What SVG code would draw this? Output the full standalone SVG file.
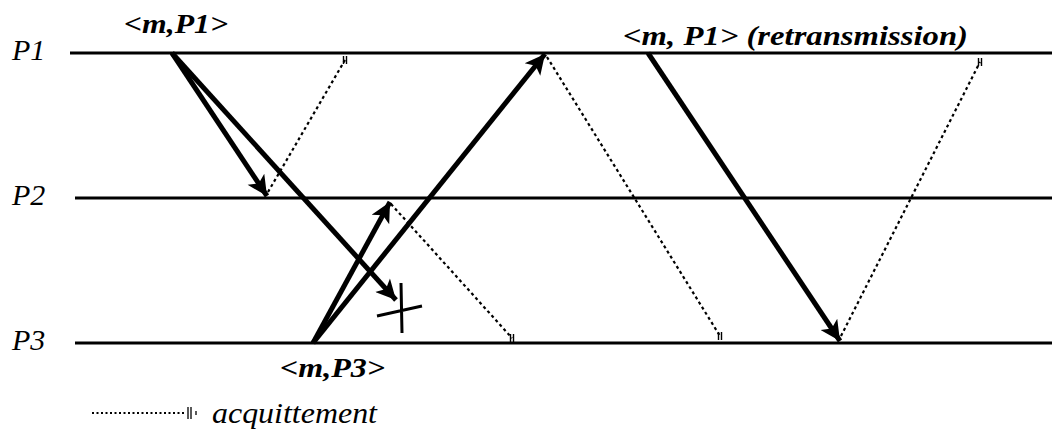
<svg xmlns="http://www.w3.org/2000/svg" width="1052" height="433" viewBox="0 0 1052 433">
<style>
.lbl{font-family:"Liberation Serif",serif;font-style:italic;font-size:30px;fill:#000}
.msg{font-family:"Liberation Serif",serif;font-style:italic;font-weight:bold;font-size:27px;fill:#000}
.time{stroke:#000;stroke-width:3;fill:none}
.msgline{stroke:#000;stroke-width:5;fill:none;marker-end:url(#ah)}
.ack{stroke:#000;stroke-width:2.2;stroke-dasharray:3 3;fill:none;marker-end:url(#tick)}
</style>
<defs>
<marker id="ah" viewBox="0 0 10 10" refX="10" refY="5" markerWidth="5" markerHeight="4" orient="auto" markerUnits="strokeWidth">
<path d="M0,0 L10,5 L0,10 L2.5,5 z" fill="#000"/>
</marker>
<marker id="tick" viewBox="0 0 10 10" refX="5" refY="5" markerWidth="10" markerHeight="10" orient="0" markerUnits="userSpaceOnUse">
<path d="M3.5,1 V9 M6.5,1 V9" stroke="#000" stroke-width="1.4"/>
</marker>
</defs>
<g id="timelines">
<line class="time" x1="70" y1="53" x2="1052" y2="53"/>
<line class="time" x1="75" y1="198" x2="1052" y2="198"/>
<line class="time" x1="75" y1="343" x2="1052" y2="343"/>
</g>
<g id="P1"><text class="lbl" x="12" y="60">P1</text></g>
<g id="P2"><text class="lbl" x="12" y="205">P2</text></g>
<g id="P3"><text class="lbl" x="12" y="350">P3</text></g>
<g id="m-P1"><text class="msg" x="124" y="33" textLength="104" lengthAdjust="spacingAndGlyphs">&lt;m,P1&gt;</text></g>
<g id="m-P1-retrans"><text class="msg" x="623" y="45" textLength="345" lengthAdjust="spacingAndGlyphs">&lt;m, P1&gt; (retransmission)</text></g>
<g id="m-P3"><text class="msg" x="280" y="377" textLength="105" lengthAdjust="spacingAndGlyphs">&lt;m,P3&gt;</text></g>
<g id="loss"><path d="M401,283 L402,333 M377,316 L422,306" stroke="#000" stroke-width="3" fill="none"/></g>
<g id="connectors">
<line class="msgline" x1="172" y1="53" x2="267" y2="196"/>
<line class="msgline" x1="172" y1="53" x2="396" y2="300"/>
<line class="msgline" x1="313" y1="343" x2="390" y2="202"/>
<line class="msgline" x1="313" y1="343" x2="545" y2="54"/>
<line class="msgline" x1="648" y1="53" x2="840" y2="341"/>
<line class="ack" x1="268" y1="192" x2="345" y2="60"/>
<line class="ack" x1="391" y1="204" x2="512" y2="338"/>
<line class="ack" x1="547" y1="57" x2="720" y2="336"/>
<line class="ack" x1="841" y1="336" x2="980" y2="62"/>
</g>
<g id="legend">
<line x1="92" y1="413" x2="186" y2="413" stroke="#000" stroke-width="2" stroke-dasharray="2 2.5"/>
<path d="M188,407 V419 M191,407 V419 M196,411 V415" stroke="#000" stroke-width="1.3"/>
<text class="lbl" x="212" y="423" textLength="165" lengthAdjust="spacingAndGlyphs">acquittement</text>
</g>
</svg>
